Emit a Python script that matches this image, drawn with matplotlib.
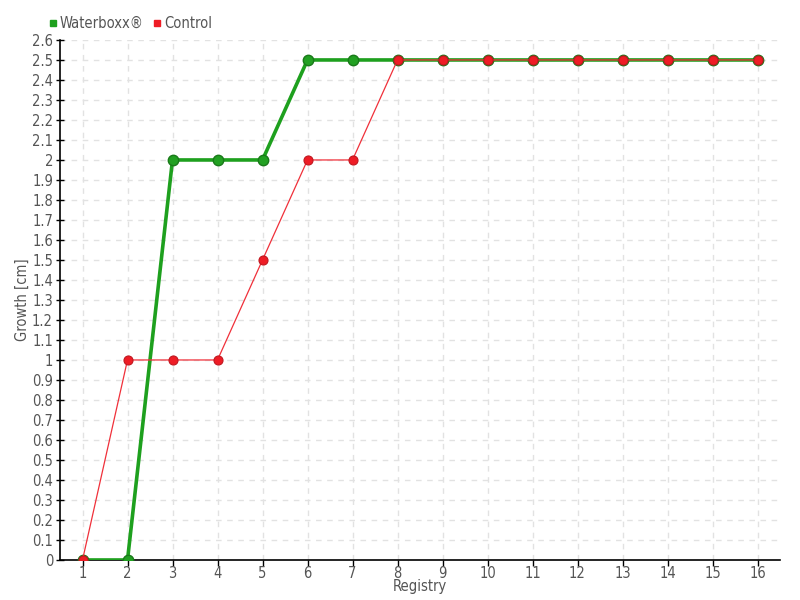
import matplotlib
matplotlib.use('Agg')
import matplotlib.pyplot as plt

registry = list(range(1, 17))
waterboxx = [0, 0, 2, 2, 2, 2.5, 2.5, 2.5, 2.5, 2.5, 2.5, 2.5, 2.5, 2.5, 2.5, 2.5]
control = [0, 1, 1, 1, 1.5, 2, 2, 2.5, 2.5, 2.5, 2.5, 2.5, 2.5, 2.5, 2.5, 2.5]
y_ticks = [round(v * 0.1, 1) for v in range(27)]
y_labels = [('%g' % v) for v in y_ticks]

plt.rcParams['font.family'] = ['DejaVu Sans']
plt.rcParams['font.stretch'] = 'condensed'
text_color = '#555555'

fig = plt.figure(figsize=(8, 6), dpi=100)
ax = fig.add_axes([0.075, 0.0667, 0.9, 0.8667])

ax.plot(registry, waterboxx, color='#1ea01e', linewidth=2.6,
        marker='o', markersize=7.5, markerfacecolor='#22a022',
        markeredgecolor='#1a7a1a', markeredgewidth=1, zorder=3,
        label='Waterboxx®')
ax.plot(registry, control, color='#f0303a', linewidth=0.9,
        marker='o', markersize=6.5, markerfacecolor='#ee1c25',
        markeredgecolor='#c01820', markeredgewidth=0.8, zorder=4,
        label='Control')

ax.set_xlim(0.5, 16.5)
ax.set_ylim(0, 2.6)
ax.set_xticks(registry)
ax.set_yticks(y_ticks)
ax.set_yticklabels(y_labels)

ax.grid(True, color='#e2e2e2', linestyle=(0, (4, 4)), linewidth=1)
ax.set_axisbelow(True)

for side in ['top', 'right']:
    ax.spines[side].set_visible(False)
for side in ['left', 'bottom']:
    ax.spines[side].set_color('black')
    ax.spines[side].set_linewidth(1.2)

ax.tick_params(axis='both', colors='black', labelcolor=text_color,
               labelsize=10.5, length=4, width=1)
ax.tick_params(axis='y', direction='inout', length=6, pad=2)
ax.tick_params(axis='x', pad=0)

ax.set_ylabel('Growth [cm]', color=text_color, fontsize=10.5)
ax.yaxis.set_label_coords(-0.042, 0.5)
ax.set_xlabel('Registry', color=text_color, fontsize=10.5)
ax.xaxis.set_label_coords(0.5, -0.037)

handles = [
    plt.Line2D([], [], linestyle='none', marker='s', markersize=5,
               color='#1ea01e', label='Waterboxx®'),
    plt.Line2D([], [], linestyle='none', marker='s', markersize=5,
               color='#ee1c25', label='Control'),
]
legend = fig.legend(handles=handles, loc='upper left', bbox_to_anchor=(0.044, 0.995),
                    ncol=2, frameon=False, fontsize=10.5, handlelength=0.6,
                    handletextpad=0.2, columnspacing=0.6)
plt.setp(legend.get_texts(), color=text_color)

fig.savefig('out.png', dpi=100)
